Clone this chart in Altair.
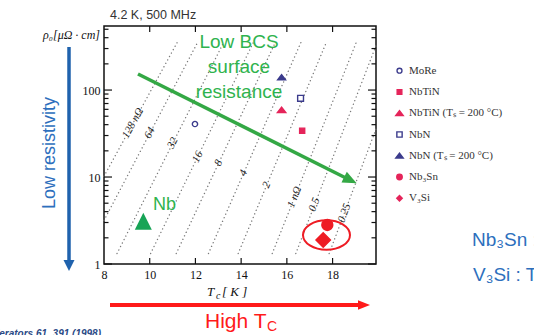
import altair as alt
import pandas as pd

# ---------------- data ----------------
mat_names = ["MoRe", "NbTiN", "NbTiN (Ts = 200 °C)", "NbN", "NbN (Ts = 200 °C)", "Nb3Sn", "V3Si"]
mat_tc = [11.98, 16.67, 15.77, 16.60, 15.77, 17.77, 17.59]
mat_rho = [40.7, 34.1, 58.9, 80.3, 140.0, 2.81, 1.89]

legend_labels = ["MoRe", "NbTiN", "NbTiN (Tₛ = 200 °C)", "NbN", "NbN (Tₛ = 200 °C)", "Nb₃Sn", "V₃Si"]

nb_tc = [9.72]
nb_rho = [3.1]

iso_names = ["128 nΩ", "64", "32", "16", "8", "4", "2", "1 nΩ", "0.5", "0.25"]
iso_tc_start = [8.0, 8.0, 8.57, 10.04, 11.16, 12.57, 13.87, 15.36, 16.39, 17.85]
iso_rho_start = [10.2, 3.17, 1.32, 1.32, 1.32, 1.32, 1.32, 1.32, 1.32, 1.32]
iso_tc_end = [11.21, 12.10, 13.24, 14.54, 15.50, 16.62, 17.73, 19.04, 19.90, 19.90]
iso_rho_end = [355, 355, 355, 355, 355, 355, 355, 355, 324, 35.6]
iso_label_tc = [9.27, 10.01, 11.01, 12.10, 13.02, 14.11, 15.12, 16.34, 17.21, 18.52]
iso_label_rho = [41.7, 32.1, 24.6, 17.0, 14.5, 11.1, 8.1, 5.9, 4.8, 3.85]

x_label_values = [8, 10, 12, 14, 16, 18]
x_tick_values = [10, 12, 14, 16, 18]
y_label_values = [1, 10, 100]
y_major_ticks = [1, 10, 100]
y_minor_ticks = [2, 3, 4, 5, 6, 7, 8, 9, 20, 30, 40, 50, 60, 70, 80, 90, 200, 300, 400, 500]

# ---------------- styles ----------------
W, H = 272, 238
NAVY = "#3b3b8c"
PINK = "#e5245a"
RED = "#ee1c24"
GREEN_ARROW = "#34a845"
GREEN_TEXT = "#2fb34e"
BLUE = "#1f62ad"
BLUE_TEXT = "#2d6fbd"

tri_path = "M0,-0.7L1,0.6L-1,0.6Z"
big_tri = "M0,-1L1,1L-1,1Z"
mat_shapes = ["circle", "square", tri_path, "square", tri_path, "circle", "diamond"]
mat_fill = ["white", PINK, PINK, "white", NAVY, RED, RED]
mat_stroke = [NAVY, PINK, PINK, NAVY, NAVY, RED, RED]
mat_size = [28, 26, 70, 34, 62, 120, 210]
leg_fill = ["white", PINK, PINK, "white", NAVY, PINK, PINK]
leg_stroke = [NAVY, PINK, PINK, NAVY, NAVY, PINK, PINK]
leg_size = [24, 22, 55, 28, 55, 30, 30]
label_angle = [298.7, 297.7, 296.8, 295.9, 295.1, 293.6, 292.6, 291.7, 291.1, 290.6]

xscale = alt.Scale(domain=[8, 19.9], nice=False, zero=False)
yscale = alt.Scale(type="log", domain=[1, 545], nice=False)
xaxis = alt.Axis(values=x_label_values, ticks=False, domain=False, grid=False, title=None,
                 labelFont="Liberation Serif", labelFontSize=12, labelColor="#111",
                 labelPadding=5, labelFlush=False)
yaxis = alt.Axis(values=y_label_values, ticks=False, domain=False, grid=False, title=None,
                 labelFont="Liberation Serif", labelFontSize=12, labelColor="#111",
                 labelPadding=4, format="d", labelFlush=False)


def X(f):
    return alt.X(f, type="quantitative", scale=xscale, axis=xaxis)


def Y(f):
    return alt.Y(f, type="quantitative", scale=yscale, axis=yaxis)


one = pd.DataFrame({"a": [0]})
layers = []

# iso-resistance lines
rows = []
for i, n in enumerate(iso_names):
    rows.append({"line": n, "tc": iso_tc_start[i], "rho": iso_rho_start[i], "o": 0})
    rows.append({"line": n, "tc": iso_tc_end[i], "rho": iso_rho_end[i], "o": 1})
iso_df = pd.DataFrame(rows)
layers.append(
    alt.Chart(iso_df).mark_line(color="#7a7a7a", strokeWidth=1.4, strokeDash=[0.1, 3.8], strokeCap="round")
    .encode(x=X("tc"), y=Y("rho"), detail="line:N", order="o:Q")
)

lab_df = pd.DataFrame({"t": iso_names, "tc": iso_label_tc, "rho": iso_label_rho, "ang": label_angle})
layers.append(
    alt.Chart(lab_df).mark_text(font="Liberation Serif", fontStyle="italic", fontSize=11, color="#222")
    .encode(x=X("tc"), y=Y("rho"), text="t:N", angle=alt.Angle("ang:Q", scale=None))
)

# ticks (inward) on all four sides
ymaj = pd.DataFrame({"v": y_major_ticks})
ymin = pd.DataFrame({"v": y_minor_ticks})
xt = pd.DataFrame({"v": x_tick_values})
for df, ln in [(ymaj, 8), (ymin, 4.5)]:
    layers.append(alt.Chart(df).mark_rule(color="#111", strokeWidth=1.2)
                  .encode(y=Y("v"), x=alt.value(0), x2=alt.value(ln)))
    layers.append(alt.Chart(df).mark_rule(color="#111", strokeWidth=1.2)
                  .encode(y=Y("v"), x=alt.value(W - ln), x2=alt.value(W)))
layers.append(alt.Chart(xt).mark_rule(color="#111", strokeWidth=1.2)
              .encode(x=X("v"), y=alt.value(H - 6), y2=alt.value(H)))
layers.append(alt.Chart(xt).mark_rule(color="#111", strokeWidth=1.2)
              .encode(x=X("v"), y=alt.value(0), y2=alt.value(6)))

# green arrow + text
layers.append(alt.Chart(one).mark_rule(color=GREEN_ARROW, strokeWidth=3.5)
              .encode(x=alt.value(34), y=alt.value(48), x2=alt.value(246.4), y2=alt.value(154.2)))
layers.append(alt.Chart(one).mark_point(shape="M1,0L-1,-0.85L-1,0.85Z", filled=True, size=196,
                                        color=GREEN_ARROW, opacity=1, angle=26.5)
              .encode(x=alt.value(246.4), y=alt.value(154.2)))
for t, yy in [("Low BCS", 15.7), ("surface", 40.7), ("resistance", 65.7)]:
    layers.append(alt.Chart(one).mark_text(text=t, font="Liberation Sans", fontSize=19, color=GREEN_TEXT,
                                           align="center", baseline="middle")
                  .encode(x=alt.value(135), y=alt.value(yy)))

# material markers (one layer each, own style)
for i, n in enumerate(mat_names):
    df = pd.DataFrame({"name": [n], "tc": [mat_tc[i]], "rho": [mat_rho[i]]})
    layers.append(
        alt.Chart(df).mark_point(shape=mat_shapes[i], filled=True, fill=mat_fill[i], stroke=mat_stroke[i],
                                 size=mat_size[i], strokeWidth=1.4, opacity=1)
        .encode(x=X("tc"), y=Y("rho"))
    )

# Nb
nb_df = pd.DataFrame({"tc": nb_tc, "rho": nb_rho})
layers.append(alt.Chart(nb_df).mark_point(shape=big_tri, filled=True, size=289, color="#17a456", opacity=1)
              .encode(x=X("tc"), y=Y("rho")))
layers.append(alt.Chart(one).mark_text(text="Nb", font="Liberation Sans", fontSize=18, color=GREEN_TEXT,
                                       align="left", baseline="middle")
              .encode(x=alt.value(49), y=alt.value(179)))

# red ellipse
layers.append(alt.Chart(one).mark_point(shape="M-1,0A1,0.63,0,1,0,1,0A1,0.63,0,1,0,-1,0Z", filled=False,
                                        size=2209, color=RED, strokeWidth=2, opacity=1)
              .encode(x=alt.value(222.5), y=alt.value(209)))

# legend (manual)
for i, lab in enumerate(legend_labels):
    yy = 44.7 + i * 21.27
    layers.append(alt.Chart(one).mark_point(shape=mat_shapes[i], filled=True, fill=leg_fill[i],
                                            stroke=leg_stroke[i], size=leg_size[i], strokeWidth=1.4,
                                            opacity=1)
                  .encode(x=alt.value(295.5), y=alt.value(yy)))
    layers.append(alt.Chart(one).mark_text(text=lab, font="Liberation Serif", fontSize=11, color="#333",
                                           align="left", baseline="middle")
                  .encode(x=alt.value(305), y=alt.value(yy)))

# texts around the plot
layers.append(alt.Chart(one).mark_text(text="4.2 K, 500 MHz", font="Liberation Sans", fontSize=12.5,
                                       color="#333", align="left", baseline="middle")
              .encode(x=alt.value(6), y=alt.value(-11)))
layers.append(alt.Chart(one).mark_text(text="ρ₀[μΩ · cm]", font="Liberation Serif", fontStyle="italic",
                                       fontSize=12, color="#111", align="right", baseline="middle")
              .encode(x=alt.value(-4), y=alt.value(9)))
layers.append(alt.Chart(one).mark_text(text="T", font="Liberation Serif", fontStyle="italic",
                                       fontSize=13, color="#111", align="left", baseline="middle")
              .encode(x=alt.value(103), y=alt.value(266)))
layers.append(alt.Chart(one).mark_text(text="c", font="Liberation Serif", fontStyle="italic",
                                       fontSize=10, color="#111", align="left", baseline="middle")
              .encode(x=alt.value(112), y=alt.value(270)))
layers.append(alt.Chart(one).mark_text(text="[ K ]", font="Liberation Serif", fontStyle="italic",
                                       fontSize=13, color="#111", align="left", baseline="middle")
              .encode(x=alt.value(118), y=alt.value(266)))

# blue arrow (low resistivity)
layers.append(alt.Chart(one).mark_rule(color=BLUE, strokeWidth=3.5)
              .encode(x=alt.value(-35), y=alt.value(21), y2=alt.value(236)))
layers.append(alt.Chart(one).mark_point(shape="M-1,-1L1,-1L0,1Z", filled=True, size=121, color=BLUE, opacity=1)
              .encode(x=alt.value(-35), y=alt.value(239.5)))
layers.append(alt.Chart(one).mark_text(text="Low resistivity", font="Liberation Sans", fontSize=18,
                                       color=BLUE_TEXT, angle=270, align="center", baseline="middle")
              .encode(x=alt.value(-54), y=alt.value(127)))

# red arrow (high Tc)
layers.append(alt.Chart(one).mark_rule(color="#ff1a1a", strokeWidth=4)
              .encode(y=alt.value(279), x=alt.value(6), x2=alt.value(256)))
layers.append(alt.Chart(one).mark_point(shape="M1,0L-1,-0.8L-1,0.8Z", filled=True, size=144, color="#ff1a1a", opacity=1)
              .encode(x=alt.value(260), y=alt.value(279)))
layers.append(alt.Chart(one).mark_text(text="High T", font="Liberation Sans", fontSize=21, color="#ff1a1a",
                                       align="left", baseline="middle")
              .encode(x=alt.value(101), y=alt.value(296)))
layers.append(alt.Chart(one).mark_text(text="C", font="Liberation Sans", fontSize=14, color="#ff1a1a",
                                       align="left", baseline="middle")
              .encode(x=alt.value(163), y=alt.value(301)))

# right side text (cut off by the page, as in the slide)
layers.append(alt.Chart(one).mark_text(text="Nb₃Sn : T", font="Liberation Sans", fontSize=19, color=BLUE_TEXT,
                                       align="left", baseline="middle")
              .encode(x=alt.value(368), y=alt.value(214)))
layers.append(alt.Chart(one).mark_text(text="V₃Si : T", font="Liberation Sans", fontSize=19, color=BLUE_TEXT,
                                       align="left", baseline="middle")
              .encode(x=alt.value(369), y=alt.value(249)))

# citation (cut at bottom-left)
layers.append(alt.Chart(one).mark_text(text="Particle Accelerators 61, 391 (1998)", font="Liberation Sans",
                                       fontStyle="italic", fontWeight="bold", fontSize=10, color="#2b4a86",
                                       align="right", baseline="top")
              .encode(x=alt.value(-3), y=alt.value(303)))

chart = alt.layer(*layers).properties(
    width=W, height=H,
    padding={"left": 104, "top": 26, "right": 534 - 104 - W, "bottom": 335 - 26 - H},
    autosize=alt.AutoSizeParams(type="none"),
    background="white",
).configure_view(stroke="#111", strokeWidth=1.5)

chart.save("out.html", embed_options={"renderer": "svg", "actions": False})
